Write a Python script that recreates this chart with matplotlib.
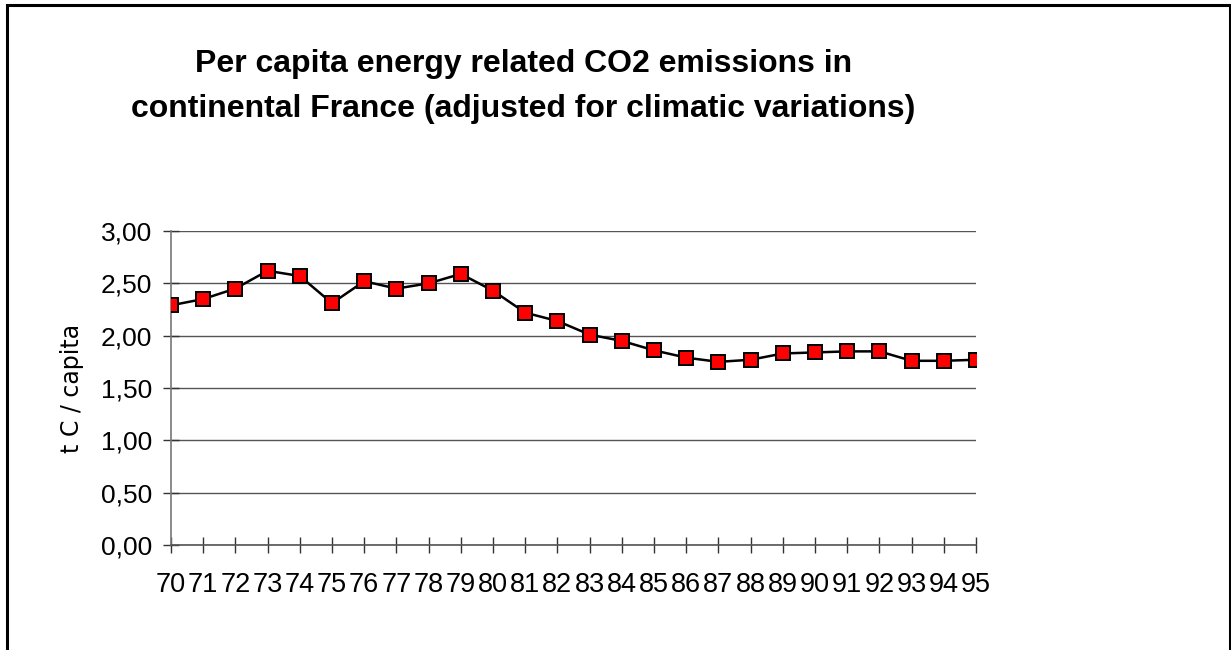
import matplotlib.pyplot as plt
from matplotlib.patches import Rectangle
from matplotlib.ticker import FuncFormatter

# years (two-digit labels) and per capita emissions, t C / capita
years = list(range(70, 96))
emissions = [2.29, 2.35, 2.45, 2.62, 2.57, 2.31, 2.52, 2.45, 2.50, 2.59,
             2.43, 2.22, 2.14, 2.01, 1.95, 1.86, 1.79, 1.75, 1.77, 1.83,
             1.84, 1.85, 1.85, 1.76, 1.76, 1.77]
year_labels = [str(y) for y in years]
y_ticks = [0.0, 0.5, 1.0, 1.5, 2.0, 2.5, 3.0]

plt.rcParams['font.family'] = ['Liberation Sans', 'DejaVu Sans']

fig = plt.figure(figsize=(12.31, 6.5), dpi=100)
# outer frame like the spreadsheet chart area
fig.add_artist(Rectangle((0.0057, -0.05), 0.9935, 1.042, transform=fig.transFigure,
                         fill=False, edgecolor='black', linewidth=2.2))

ax = fig.add_axes([0.1389, 0.1615, 0.654, 0.4831])
ax.plot(years, emissions, color='black', linewidth=1.8, marker='s',
        markersize=9.5, markerfacecolor='#ff0000', markeredgecolor='black',
        markeredgewidth=1.4, zorder=3)

ax.set_xlim(70, 95)
ax.set_ylim(0, 3)
ax.set_yticks(y_ticks)
ax.yaxis.set_major_formatter(FuncFormatter(lambda v, p: f'{v:.2f}'.replace('.', ',')))
ax.set_xticks(years)
ax.set_xticklabels(year_labels)

ax.grid(axis='y', color='#555555', linewidth=1.0)
ax.set_axisbelow(True)
for s in ['top', 'right']:
    ax.spines[s].set_visible(False)
ax.spines['left'].set_color('#777777')
ax.spines['bottom'].set_color('#555555')
ax.spines['left'].set_linewidth(1.2)
ax.spines['bottom'].set_linewidth(1.2)

ax.tick_params(axis='y', direction='inout', length=11, width=1.0, colors='#333333',
               labelcolor='black', labelsize=19, pad=8)
ax.tick_params(axis='x', direction='inout', length=11, width=1.0, colors='#333333',
               labelcolor='black', labelsize=19.5, pad=14)

ax.set_ylabel('t C / capita', fontsize=17, color='black',
              family=['Liberation Sans Narrow', 'DejaVu Sans'],
              labelpad=12)

fig.text(0.425, 0.867, 'Per capita energy related CO2 emissions in\n'
         'continental France (adjusted for climatic variations)',
         ha='center', va='center', fontsize=23, fontweight='bold',
         linespacing=1.65)

fig.savefig('out.png', dpi=100, facecolor='white')
